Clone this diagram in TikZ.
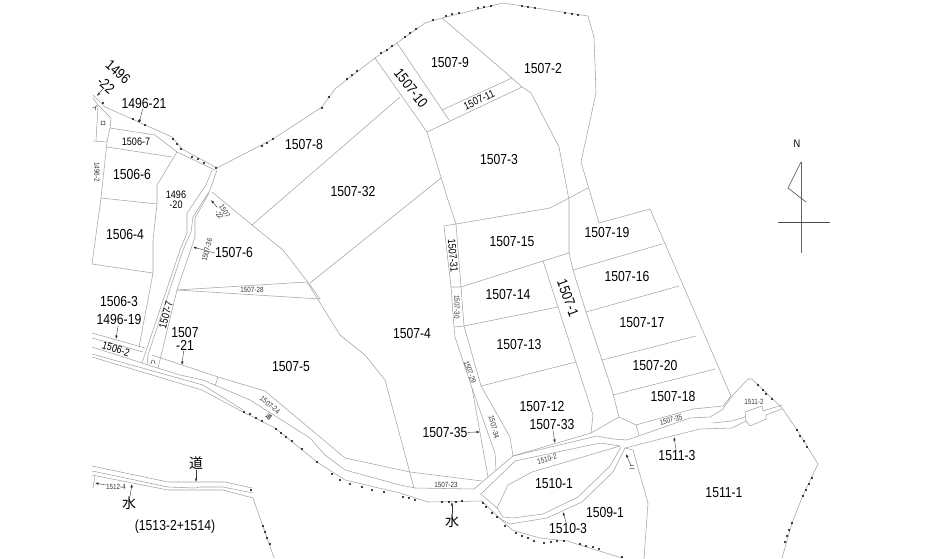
\documentclass[tikz,border=0pt]{standalone}
\usepackage{fontspec}
\setmainfont[FakeStretch=0.84]{Liberation Sans}
\newfontfamily\jpfont{Noto Sans CJK JP}
\usetikzlibrary{arrows.meta}
\begin{document}
\begin{tikzpicture}[
    x=1pt,y=-1pt,
    lot/.style={draw=black!36, line width=0.55pt},
    lead/.style={draw=black!80, line width=0.4pt, -{Latex[length=3.5pt,width=2.5pt]}},
    big/.style={inner sep=0pt, align=center, font=\fontsize{14.5}{13}\selectfont},
    mid/.style={inner sep=0pt, align=center, font=\fontsize{10.8}{9.5}\selectfont},
    tiny/.style={inner sep=0pt, align=center, text=black!80, font=\fontsize{7.5}{6.5}\selectfont},
    jp/.style={inner sep=0pt, font=\jpfont\fontsize{14}{14}\selectfont},
    jptiny/.style={inner sep=0pt, font=\jpfont\fontsize{6}{6}\selectfont}
    ]
    \useasboundingbox (0,0) rectangle (932,559);

    % outer edge, north side
    \draw[lot] (93,95) -- (105,107) -- (132,119) -- (172,137) -- (182,149) -- (217,168) -- (273,139) -- (322,107)
        -- (335,89) -- (375,58) -- (397,43) -- (425,23) -- (442,18) -- (503,3) -- (588,16) -- (594,37) -- (596,93)
        -- (581,162) -- (599,223) -- (650,209) -- (731,396) -- (723,406) -- (693,409) -- (636,425) -- (619,417);
    \draw[lot] (619,417) -- (591,433) -- (513,456);
    % north parcels
    \draw[lot] (442,18) -- (512,78) -- (522,87) -- (531,93) -- (559,147) -- (569,200) -- (569,253);
    \draw[lot] (375,58) -- (427,132) -- (448,200) -- (456,224);
    \draw[lot] (397,43) -- (449,120);
    \draw[lot] (427,132) -- (522,87);
    \draw[lot] (442,110) -- (512,78);
    \draw[lot] (252,225) -- (400,97);
    \draw[lot] (310,283) -- (441,178);
    \draw[lot] (212,192) -- (252,225) -- (283,250) -- (310,285) -- (320,299);
    \draw[lot] (307,282) -- (340,335) -- (365,355) -- (385,380) -- (414,488);
    \draw[lot] (177,290) -- (307,282);
    \draw[lot] (177,290) -- (320,299);
    % middle block
    \draw[lot] (444,226) -- (456,224) -- (550,208) -- (588,188);
    \draw[lot] (444,226) -- (451,287) -- (454,327) -- (455,337) -- (472,388) -- (488,477);
    \draw[lot] (456,224) -- (461,287) -- (464,326) -- (481,386) -- (510,437) -- (513,456);
    \draw[lot] (472,388) -- (495,453) -- (496,470);
    \draw[lot] (451,287) -- (461,287) -- (543,261) -- (569,253);
    \draw[lot] (454,327) -- (464,326) -- (558,307);
    \draw[lot] (481,386) -- (576,362);
    \draw[lot] (543,261) -- (585,390) -- (593,415) -- (591,433);
    \draw[lot] (569,253) -- (573,270) -- (586,312) -- (602,360) -- (612,390) -- (619,417);
    \draw[lot] (573,270) -- (662,244);
    \draw[lot] (586,312) -- (679,286);
    \draw[lot] (602,360) -- (696,336);
    \draw[lot] (613,395) -- (715,369);
    \draw[lot] (636,425) -- (639,435);
    % road through the middle
    \draw[lot] (513,456) -- (474,489) -- (415,488) -- (400,485) -- (345,470) -- (325,455) -- (310,438) -- (250,400) -- (203,380) -- (180,375) -- (148,365) -- (142,363) -- (92,347);
    \draw[lot] (265,391) -- (320,437) -- (345,458) -- (410,472) -- (482,481);
    \draw[lot] (152,355) -- (218,377) -- (265,391);
    \draw[lot] (218,377) -- (215,386);
    \draw[lot] (513,456) -- (597,436) -- (613,439) -- (627,440) -- (690,418) -- (710,417) -- (722,410) -- (733,395) -- (748,379) -- (752,379);
    \draw[lot] (480,495) -- (515,461) -- (600,443) -- (620,446);
    \draw[lot] (625,448) -- (700,429) -- (732,428) -- (746,421) -- (745,412) -- (762,406) -- (763,411) -- (782,405);
    \draw[lot] (713,423) -- (732,421) -- (745,417);
    \draw[lot] (782,409) -- (766,415) -- (766,419) -- (750,426) -- (746,421);
    % 1510 block
    \draw[lot] (620,446) -- (532,472) -- (508,485) -- (497,508) -- (503,517) -- (513,518) -- (543,514) -- (578,497) -- (610,466) -- (621,447);
    \draw[lot] (625,448) -- (613,472) -- (582,502) -- (547,518) -- (510,524) -- (497,517);
    \draw[lot] (482,495) -- (497,508);
    \draw[lot] (625,448) -- (633,450) -- (648,503) -- (644,559);
    % south edge
    \draw[lot] (92,354) -- (203,385) -- (243,410);
    \draw[lot] (92,357) -- (202,390) -- (243,412) -- (275,428) -- (317,462) -- (345,480) -- (400,493) -- (428,502) -- (482,501) -- (512,530) -- (540,538) -- (567,541) -- (622,558);
    % east edge
    \draw[lot] (752,379) -- (782,408) -- (797,430) -- (818,464) -- (803,495) -- (792,523) -- (782,558);
    % west parcels
    \draw[lot] (93,98) -- (98,105) -- (96,141);
    \draw[lot] (93,141) -- (107,142);
    \draw[lot] (98,105) -- (111,118) -- (110,128) -- (107,142) -- (101,198) -- (92,264);
    \draw[lot] (110,128) -- (155,135) -- (177,152) -- (215,170);
    \draw[lot] (107,147) -- (172,157);
    \draw[lot] (177,152) -- (157,185) -- (157,204) -- (153,240) -- (153,273) -- (139,347);
    \draw[lot] (101,198) -- (157,204);
    \draw[lot] (92,264) -- (153,273);
    % strip 1507-7
    \draw[lot] (212,170) -- (206,185) -- (187,213) -- (187,233) -- (180,250) -- (142,363);
    \draw[lot] (217,170) -- (210,190) -- (193,217) -- (191,232) -- (183,250) -- (148,355) -- (147,365);
    \draw[lot] (209,193) -- (195,218) -- (195,237) -- (177,290) -- (158,368);
    \draw[lot] (92,333) -- (145,348);
    \draw[lot] (92,338) -- (143,352);
    % south-west road
    \draw[lot] (92,466) -- (168,482) -- (225,482) -- (252,488);
    \draw[lot] (92,471) -- (168,487) -- (195,488) -- (200,487) -- (223,487) -- (253,493);
    \draw[lot] (92,475) -- (168,490) -- (223,490) -- (253,498) -- (274,558);
    \draw[lot] (95,476) -- (93,488);

    % boundary marks
    \foreach \m in {(103,103),(133,119),(139,121),(145,125),(173,139),(177,144),(181,149),(192,157),(198,159),(204,163),(216,168),
        (262,146),(267,143),(273,139),(322,108),(329,97),(347,79),(352,75),(357,71),(381,53),(387,50),(392,46),(405,37),(410,33),(416,29),
        (433,20),(446,16),(452,14),(459,13),(478,8),(484,7),(491,6),(522,6),(528,7),(535,8),(565,13),(572,14),(578,15),
        (244,412),(250,414),(256,418),(262,421),(276,429),(281,433),(286,437),(292,441),(302,449),(317,462),
        (332,474),(340,480),(350,484),(362,487),(372,490),(384,492),(403,497),(409,498),(415,500),(442,502),(449,502),(456,502),(462,501),
        (483,503),(486,507),(492,513),(497,517),(505,526),(516,533),(522,536),(528,538),(534,541),(544,543),(551,542),(557,541),(564,541),
        (580,544),(586,546),(593,547),(599,549),(622,557),(251,490),(263,526),(265,532),(267,538),(270,544),
        (758,385),(763,390),(766,394),(772,399),(797,430),(800,436),(804,441),(807,447),(812,478),(809,484),(806,490),(803,496),
        (792,523),(789,530),(787,536),(785,542)}
        \fill[black] \m circle (1.1pt);

    % parcel numbers
    \node[big] (p9) at (450,63) {1507-9};
    \node[big] (p2) at (543,69) {1507-2};
    \node[big,rotate=-52] (p10) at (411,88) {1507-10};
    \node[mid,rotate=25] (p11) at (479,100) {1507-11};
    \node[big] (p3) at (499,160) {1507-3};
    \node[big] (p8) at (304,145) {1507-8};
    \node[big] (p32) at (353,192) {1507-32};
    \node[big] (p6) at (234,253) {1507-6};
    \node[big] (p4) at (412,334) {1507-4};
    \node[big] (p5) at (291,367) {1507-5};
    \node[big] (p15) at (512,242) {1507-15};
    \node[big] (p14) at (508,295) {1507-14};
    \node[big] (p13) at (519,345) {1507-13};
    \node[big] (p12) at (542,407) {1507-12};
    \node[big] (p33) at (552,425) {1507-33};
    \node[big] (p35) at (445,433) {1507-35};
    \node[big] (p19) at (607,233) {1507-19};
    \node[big] (p16) at (627,277) {1507-16};
    \node[big] (p17) at (642,323) {1507-17};
    \node[big] (p20) at (655,366) {1507-20};
    \node[big] (p18) at (673,397) {1507-18};
    \node[big,rotate=-70] (p1) at (568,298) {1507-1};
    \node[big] (s1) at (554,484) {1510-1};
    \node[big] (s3) at (568,529) {1510-3};
    \node[big] (r1) at (605,513) {1509-1};
    \node[big] (e3) at (677,456) {1511-3};
    \node[big] (e1) at (724,493) {1511-1};
    \node[big] (w21) at (144,104) {1496-21};
    \node[big] (w6) at (132,175) {1506-6};
    \node[big] (w4) at (125,235) {1506-4};
    \node[big] (w3) at (119,302) {1506-3};
    \node[big] (w19) at (119,320) {1496-19};
    \node[big] (p21) at (185,339) {1507\\-21};
    \node[big,rotate=-41] (w22a) at (118,72) {1496};
    \node[big,rotate=-41] (w22b) at (106,85) {-22};
    \node[big] (sw) at (175,527) {(1513-2+1514)};
    % small numbers
    \node[mid] (w7) at (136,142) {1506-7};
    \node[mid] (w20) at (176,200) {1496\\-20};
    \node[mid,rotate=-18] (w2) at (116,349) {1506-2};
    \node[mid,rotate=75] (p7) at (166,315) {1507-7};
    \node[mid,rotate=-85] (p31) at (453,256) {1507-31};
    \node[tiny,rotate=-90] (w96) at (97,172) {1496-2};
    \node[tiny,rotate=-58] (p22) at (222,213) {1507\\-22};
    \node[tiny,rotate=75] (p36) at (207,250) {1507-36};
    \node[tiny] (p28) at (252,290) {1507-28};
    \node[tiny,rotate=-40] (p24) at (270,405) {1507-24};
    \node[tiny] (p23) at (446,485) {1507-23};
    \node[tiny,rotate=-90] (p30) at (457,307) {1507-30};
    \node[tiny,rotate=-70] (p29) at (470,372) {1507-29};
    \node[tiny,rotate=-75] (p34) at (494,427) {1507-34};
    \node[tiny,rotate=15] (s2) at (547,459) {1510-2};
    \node[tiny,rotate=15] (p35b) at (671,420) {1507-35};
    \node[tiny] (e2) at (754,402) {1511-2};
    \node[tiny] (sw4) at (116,487) {1512-4};
    % kana marks
    \node[jp] (roadsw) at (196,463) {道};
    \node[jp] (watersw) at (129,503) {水};
    \node[jp] (water) at (452,521) {水};
    \node[jptiny,rotate=-40] (roadm) at (269,417) {道};
    \node[jptiny] (ro) at (103,123) {ロ};
    \node[jptiny] (ha) at (153,362) {ハ};
    \node[jptiny] (i) at (95,108) {イ};
    \node[jptiny] (ni) at (632,468) {ニ};

    % leaders
    \coordinate (t22) at (97,96);
    \coordinate (t21) at (139,123);
    \coordinate (t36) at (193,247);
    \coordinate (t72) at (211,200);
    \coordinate (t19) at (116,339);
    \coordinate (t721) at (182,365);
    \coordinate (t33) at (555,443);
    \coordinate (t35) at (480,432);
    \coordinate (ts3) at (563,512);
    \coordinate (te3) at (674,437);
    \coordinate (tni) at (626,454);
    \coordinate (troad) at (196,482);
    \coordinate (twsw) at (132,484);
    \coordinate (tw) at (452,502);
    \coordinate (t124) at (95,483);
    \draw[lead] (w22b) -- (t22);
    \draw[lead] (w21) -- (t21);
    \draw[lead] (p6.west) -- (t36);
    \draw[lead] (p22) -- (t72);
    \draw[lead] (w19) -- (t19);
    \draw[lead] (p21) -- (t721);
    \draw[lead] (p33) -- (t33);
    \draw[lead] (p35) -- (t35);
    \draw[lead] (s3) -- (ts3);
    \draw[lead] (e3) -- (te3);
    \draw[lead] (ni) -- (tni);
    \draw[lead] (roadsw) -- (troad);
    \draw[lead] (watersw) -- (twsw);
    \draw[lead] (water) -- (tw);
    \draw[lead] (sw4) -- (t124);

    % north mark
    \node[inner sep=0pt, font=\fontsize{11}{11}\selectfont] (north) at (797,144) {N};
    \coordinate (ntop) at (801,162);
    \coordinate (nbot) at (801,253);
    \coordinate (nflag) at (788,188);
    \coordinate (nend) at (806,202);
    \coordinate (wbar) at (778,222);
    \coordinate (ebar) at (830,222);
    \draw[draw=black!60, line width=0.6pt] (ntop) -- (nbot);
    \draw[draw=black!70, line width=0.6pt] (wbar) -- (ebar);
    \draw[draw=black!70, line width=0.6pt] (ntop) -- (nflag) -- (nend);
\end{tikzpicture}
\end{document}
